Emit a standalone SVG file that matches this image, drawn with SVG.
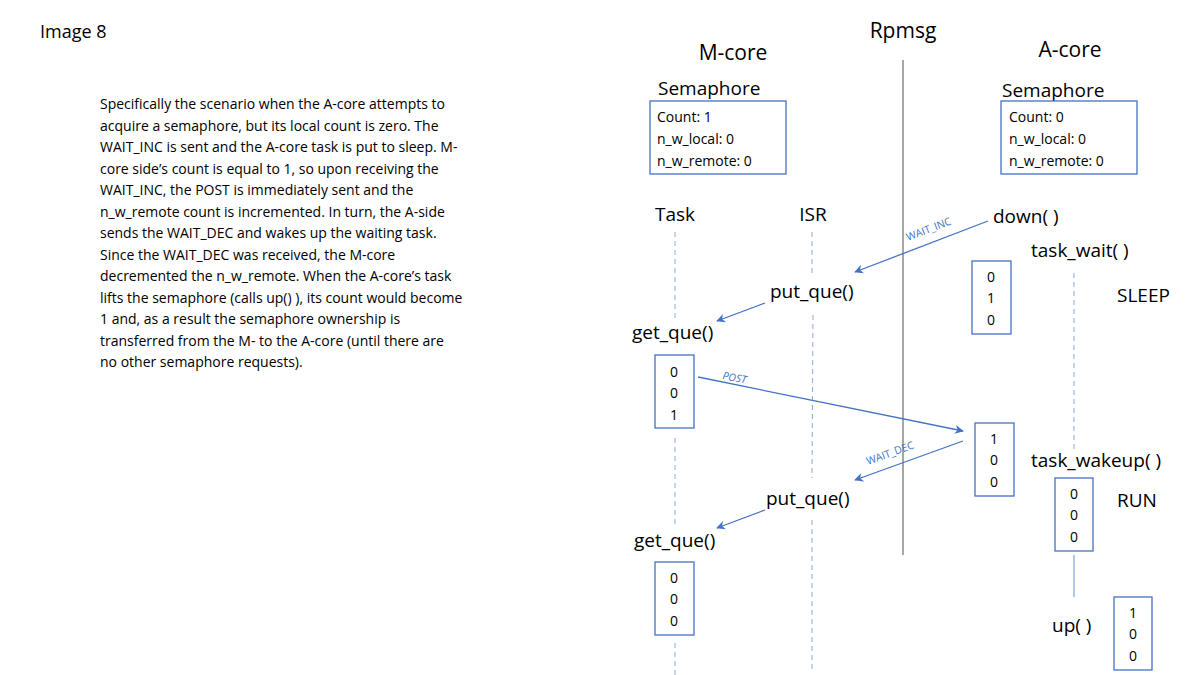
<svg xmlns="http://www.w3.org/2000/svg" width="1200" height="675" viewBox="0 0 1200 675">
<defs>
<style>
text{font-family:"Open Sans","Liberation Sans",sans-serif;fill:#000}
.p{font-size:14px}
.h{font-size:21px}
.f{font-size:19px}
.v{font-size:14px;text-anchor:middle}
.s{font-size:14px}
.lbl{font-size:10.5px;fill:#4472C4}
.box{fill:#fff;stroke:#4472C4;stroke-width:1.3}
.dash{stroke:#8EA9DB;stroke-width:1;stroke-dasharray:5 4;fill:none}
.arr{stroke:#4472C4;stroke-width:1.3;fill:none;marker-end:url(#ah)}
</style>
<marker id="ah" viewBox="0 0 10 10" refX="9" refY="5" markerWidth="9" markerHeight="9" orient="auto" markerUnits="userSpaceOnUse"><path d="M0,0 L10,5 L0,10 L3,5 z" fill="#4472C4"/></marker>
</defs>
<rect width="1200" height="675" fill="#fff"/>
<text x="40" y="38" style="font-size:18px">Image 8</text>
<g class="p">
<text class="p" x="100" y="109">Specifically the scenario when the A-core attempts to</text>
<text class="p" x="100" y="131">acquire a semaphore, but its local count is zero. The</text>
<text class="p" x="100" y="152">WAIT_INC is sent and the A-core task is put to sleep. M-</text>
<text class="p" x="100" y="174">core side’s count is equal to 1, so upon receiving the</text>
<text class="p" x="100" y="195">WAIT_INC, the POST is immediately sent and the</text>
<text class="p" x="100" y="217">n_w_remote count is incremented. In turn, the A-side</text>
<text class="p" x="100" y="238">sends the WAIT_DEC and wakes up the waiting task.</text>
<text class="p" x="100" y="260">Since the WAIT_DEC was received, the M-core</text>
<text class="p" x="100" y="281">decremented the n_w_remote. When the A-core’s task</text>
<text class="p" x="100" y="303">lifts the semaphore (calls up() ), its count would become</text>
<text class="p" x="100" y="324">1 and, as a result the semaphore ownership is</text>
<text class="p" x="100" y="346">transferred from the M-  to the A-core (until there are</text>
<text class="p" x="100" y="367">no other semaphore requests).</text>
</g>
<text class="h" x="733" y="60" text-anchor="middle">M-core</text>
<text class="h" x="903" y="38" text-anchor="middle">Rpmsg</text>
<text class="h" x="1070" y="57" text-anchor="middle">A-core</text>
<g id="connectors">
<line x1="903" y1="60" x2="903" y2="555" stroke="#A6A6A6" stroke-width="2"/>
<line class="dash" x1="675" y1="232" x2="675" y2="320"/>
<line class="dash" x1="675" y1="438" x2="675" y2="525"/>
<line class="dash" x1="675" y1="643" x2="675" y2="675"/>
<line class="dash" x1="812" y1="232" x2="812" y2="276"/>
<line class="dash" x1="813" y1="315" x2="812" y2="478"/>
<line class="dash" x1="812" y1="520" x2="812" y2="670"/>
<line class="dash" x1="1074" y1="273" x2="1074" y2="450"/>
<line x1="1074" y1="555" x2="1074" y2="597" stroke="#8EA9DB" stroke-width="1.3"/>
<line class="arr" x1="988" y1="221" x2="855" y2="272"/>
<line class="arr" x1="765" y1="303" x2="717" y2="321"/>
<line class="arr" x1="698" y1="377" x2="963" y2="431"/>
<line class="arr" x1="963" y1="441" x2="855" y2="480"/>
<line class="arr" x1="765" y1="510" x2="717" y2="528"/>
<text class="lbl" transform="translate(908,241) rotate(-21)">WAIT_INC</text>
<text class="lbl" transform="translate(722,379) rotate(11)" font-style="italic">POST</text>
<text class="lbl" transform="translate(868,465) rotate(-20)">WAIT_DEC</text>
</g>
<g id="m-sem">
<text class="f" x="658" y="95">Semaphore</text>
<rect class="box" x="650" y="101" width="136" height="73"/>
<text class="s" x="657" y="122">Count: 1</text>
<text class="s" x="657" y="144">n_w_local: 0</text>
<text class="s" x="657" y="166">n_w_remote: 0</text>
</g>
<g id="a-sem">
<text class="f" x="1002" y="97">Semaphore</text>
<rect class="box" x="1001" y="101" width="136" height="73"/>
<text class="s" x="1009" y="122">Count: 0</text>
<text class="s" x="1009" y="144">n_w_local: 0</text>
<text class="s" x="1009" y="166">n_w_remote: 0</text>
</g>
<g id="labels">
<text class="f" x="675" y="221" text-anchor="middle">Task</text>
<text class="f" x="813" y="221" text-anchor="middle">ISR</text>
<text class="f" x="993" y="223">down( )</text>
<text class="f" x="1031" y="257">task_wait( )</text>
<text class="f" x="1117" y="302">SLEEP</text>
<text class="f" x="1031" y="467">task_wakeup( )</text>
<text class="f" x="1117" y="507">RUN</text>
<text class="f" x="1052" y="632">up( )</text>
</g>
<g id="put1"><text class="f" x="770" y="298">put_que()</text></g>
<g id="get1"><text class="f" x="632" y="339">get_que()</text></g>
<g id="put2"><text class="f" x="766" y="505">put_que()</text></g>
<g id="get2"><text class="f" x="634" y="547">get_que()</text></g>
<g id="box-m1"><rect class="box" x="655" y="355" width="39" height="73"/><text class="v" x="674" y="377">0</text><text class="v" x="674" y="398">0</text><text class="v" x="674" y="420">1</text></g>
<g id="box-m2"><rect class="box" x="655" y="562" width="39" height="73"/><text class="v" x="674" y="583">0</text><text class="v" x="674" y="604">0</text><text class="v" x="674" y="626">0</text></g>
<g id="box-a1"><rect class="box" x="972" y="261" width="39" height="73"/><text class="v" x="991" y="282">0</text><text class="v" x="991" y="303">1</text><text class="v" x="991" y="325">0</text></g>
<g id="box-a2"><rect class="box" x="975" y="423" width="39" height="73"/><text class="v" x="994" y="444">1</text><text class="v" x="994" y="465">0</text><text class="v" x="994" y="487">0</text></g>
<g id="box-a3"><rect class="box" x="1055" y="478" width="38" height="73"/><text class="v" x="1074" y="499">0</text><text class="v" x="1074" y="520">0</text><text class="v" x="1074" y="542">0</text></g>
<g id="box-a4"><rect class="box" x="1114" y="597" width="38" height="73"/><text class="v" x="1133" y="618">1</text><text class="v" x="1133" y="639">0</text><text class="v" x="1133" y="661">0</text></g>
</svg>
